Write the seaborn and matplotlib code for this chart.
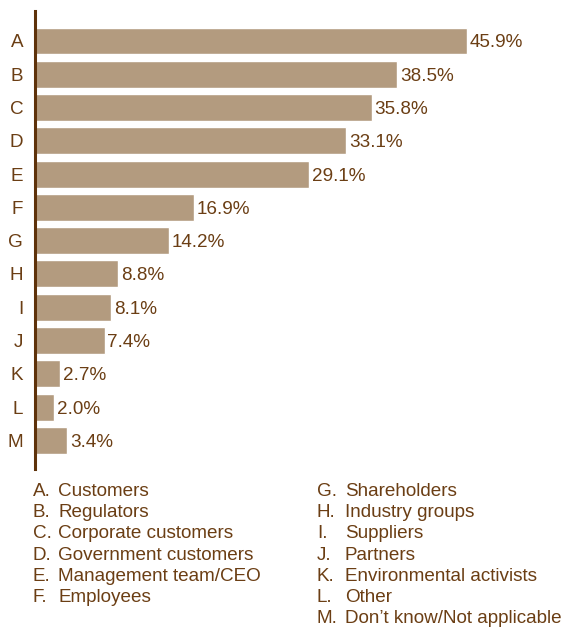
import matplotlib
matplotlib.use("Agg")
import matplotlib.pyplot as plt
import seaborn as sns
import pandas as pd

letters = ["A", "B", "C", "D", "E", "F", "G", "H", "I", "J", "K", "L", "M"]
values = [45.9, 38.5, 35.8, 33.1, 29.1, 16.9, 14.2, 8.8, 8.1, 7.4, 2.7, 2.0, 3.4]
names = ["Customers", "Regulators", "Corporate customers", "Government customers",
         "Management team/CEO", "Employees", "Shareholders", "Industry groups",
         "Suppliers", "Partners", "Environmental activists", "Other",
         "Don\u2019t know/Not applicable"]

bar_color = "#B39B7F"
text_color = "#6B3E14"
axis_color = "#5E320A"
fs = 13.6

sns.set_theme(style="white")
plt.rcParams["font.family"] = ["Liberation Sans", "DejaVu Sans"]

df = pd.DataFrame({"key": letters, "value": values})

fig = plt.figure(figsize=(5.70, 6.28), dpi=100)
ax = fig.add_axes([35 / 570, 1 - 469 / 628, 470.5 / 570, 458.3 / 628])

sns.barplot(data=df, x="value", y="key", color=bar_color, width=0.81,
            saturation=1, ax=ax)

ax.set_xlim(0, 50)
ax.set_ylim(12.86, -0.91)
ax.set_xlabel("")
ax.set_ylabel("")
ax.set_xticks([])
for s in ["top", "right", "bottom"]:
    ax.spines[s].set_visible(False)
ax.spines["left"].set_color(axis_color)
ax.spines["left"].set_linewidth(2.2)
ax.tick_params(axis="y", length=0, pad=8.5, labelsize=fs, labelcolor=text_color)
for lab in ax.get_yticklabels():
    lab.set_va("center_baseline")

for i, v in enumerate(values):
    ax.text(v + 0.3, i, f"{v:.1f}%", va="center_baseline", ha="left",
            fontsize=fs, color=text_color)

# Two-column key below the bars
row_y0 = 489.5
row_step = 21.2
for i, (k, n) in enumerate(zip(letters, names)):
    if i < 6:
        x_key, x_name, row = 33, 58, i
    else:
        x_key, x_name, row = 317, 345, i - 6
    y = 1 - (row_y0 + row * row_step) / 628
    fig.text(x_key / 570, y, f"{k}.", va="center_baseline", ha="left",
             fontsize=fs, color=text_color)
    fig.text(x_name / 570, y, n, va="center_baseline", ha="left",
             fontsize=fs, color=text_color)

fig.savefig("out.png", dpi=100)
